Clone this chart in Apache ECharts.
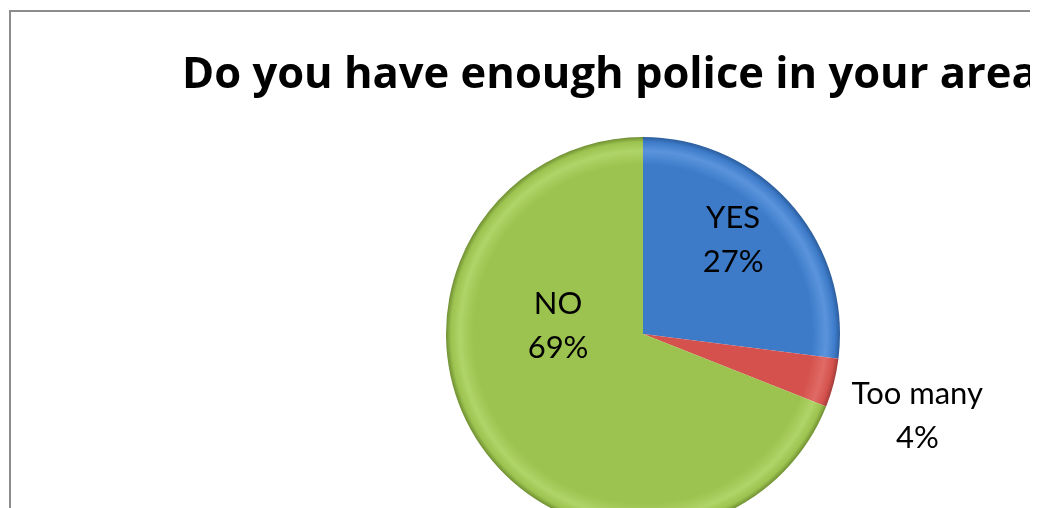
<!DOCTYPE html>
<html>
<head>
<meta charset="utf-8">
<script src="https://cdn.jsdelivr.net/npm/echarts@6/dist/echarts.min.js"></script>
<style>
  html, body { margin: 0; padding: 0; background: #fff; }
  #frame {
    position: absolute; left: 9px; top: 10px; width: 1021px; height: 498px;
    box-sizing: border-box; overflow: hidden;
    border-left: 2px solid #8c8c8c; border-top: 2px solid #8c8c8c;
  }
  #chart { position: absolute; left: -11px; top: -12px; width: 1300px; height: 508px; }
</style>
</head>
<body>
<div id="frame"><div id="chart"></div></div>
<script>
// Survey answers and their shares (percent)
const titleText = 'Do you have enough police in your area?';
const categories = ['YES', 'Too many', 'NO'];
const shares = [27, 4, 69];

// Slice palette: base, rim highlight, outer edge shade
const baseColors = ['#3d7bc9', '#d4514d', '#9cc24f'];
const rimColors = ['#5b94dc', '#e06a66', '#b0d468'];
const edgeColors = ['#2b5c9c', '#a33c39', '#6f8f32'];

// Label nudges from the default inside position
const labelShift = [[14, -27], [176, 57], [-1, -65]];

const cx = 643, cy = 334, R = 197;

function bevel(i) {
  return new echarts.graphic.RadialGradient(cx, cy, R, [
    { offset: 0, color: baseColors[i] },
    { offset: 0.86, color: baseColors[i] },
    { offset: 0.93, color: rimColors[i] },
    { offset: 0.975, color: baseColors[i] },
    { offset: 1, color: edgeColors[i] }
  ], true);
}

const chart = echarts.init(document.getElementById('chart'), null, { renderer: 'canvas' });
chart.setOption({
  animation: false,
  backgroundColor: 'transparent',
  title: {
    text: titleText,
    left: 177,
    top: 49,
    textStyle: { fontFamily: 'Open Sans', fontWeight: 'bold', fontSize: 43.5, color: '#000' }
  },
  series: [{
    type: 'pie',
    center: [cx, cy],
    radius: [0, R],
    startAngle: 90,
    clockwise: true,
    data: categories.map((name, i) => ({
      name: name,
      value: shares[i],
      itemStyle: { color: bevel(i) }
    })),
    itemStyle: { borderWidth: 0 },
    label: {
      show: true,
      position: 'inside',
      formatter: p => p.name + '\n' + p.value + '%',
      fontFamily: 'Lato',
      fontSize: 31,
      lineHeight: 44,
      color: '#000',
      align: 'center'
    },
    labelLine: { show: false },
    labelLayout: p => ({ dx: labelShift[p.dataIndex][0], dy: labelShift[p.dataIndex][1] }),
    emphasis: { disabled: true }
  }]
});
</script>
</body>
</html>
